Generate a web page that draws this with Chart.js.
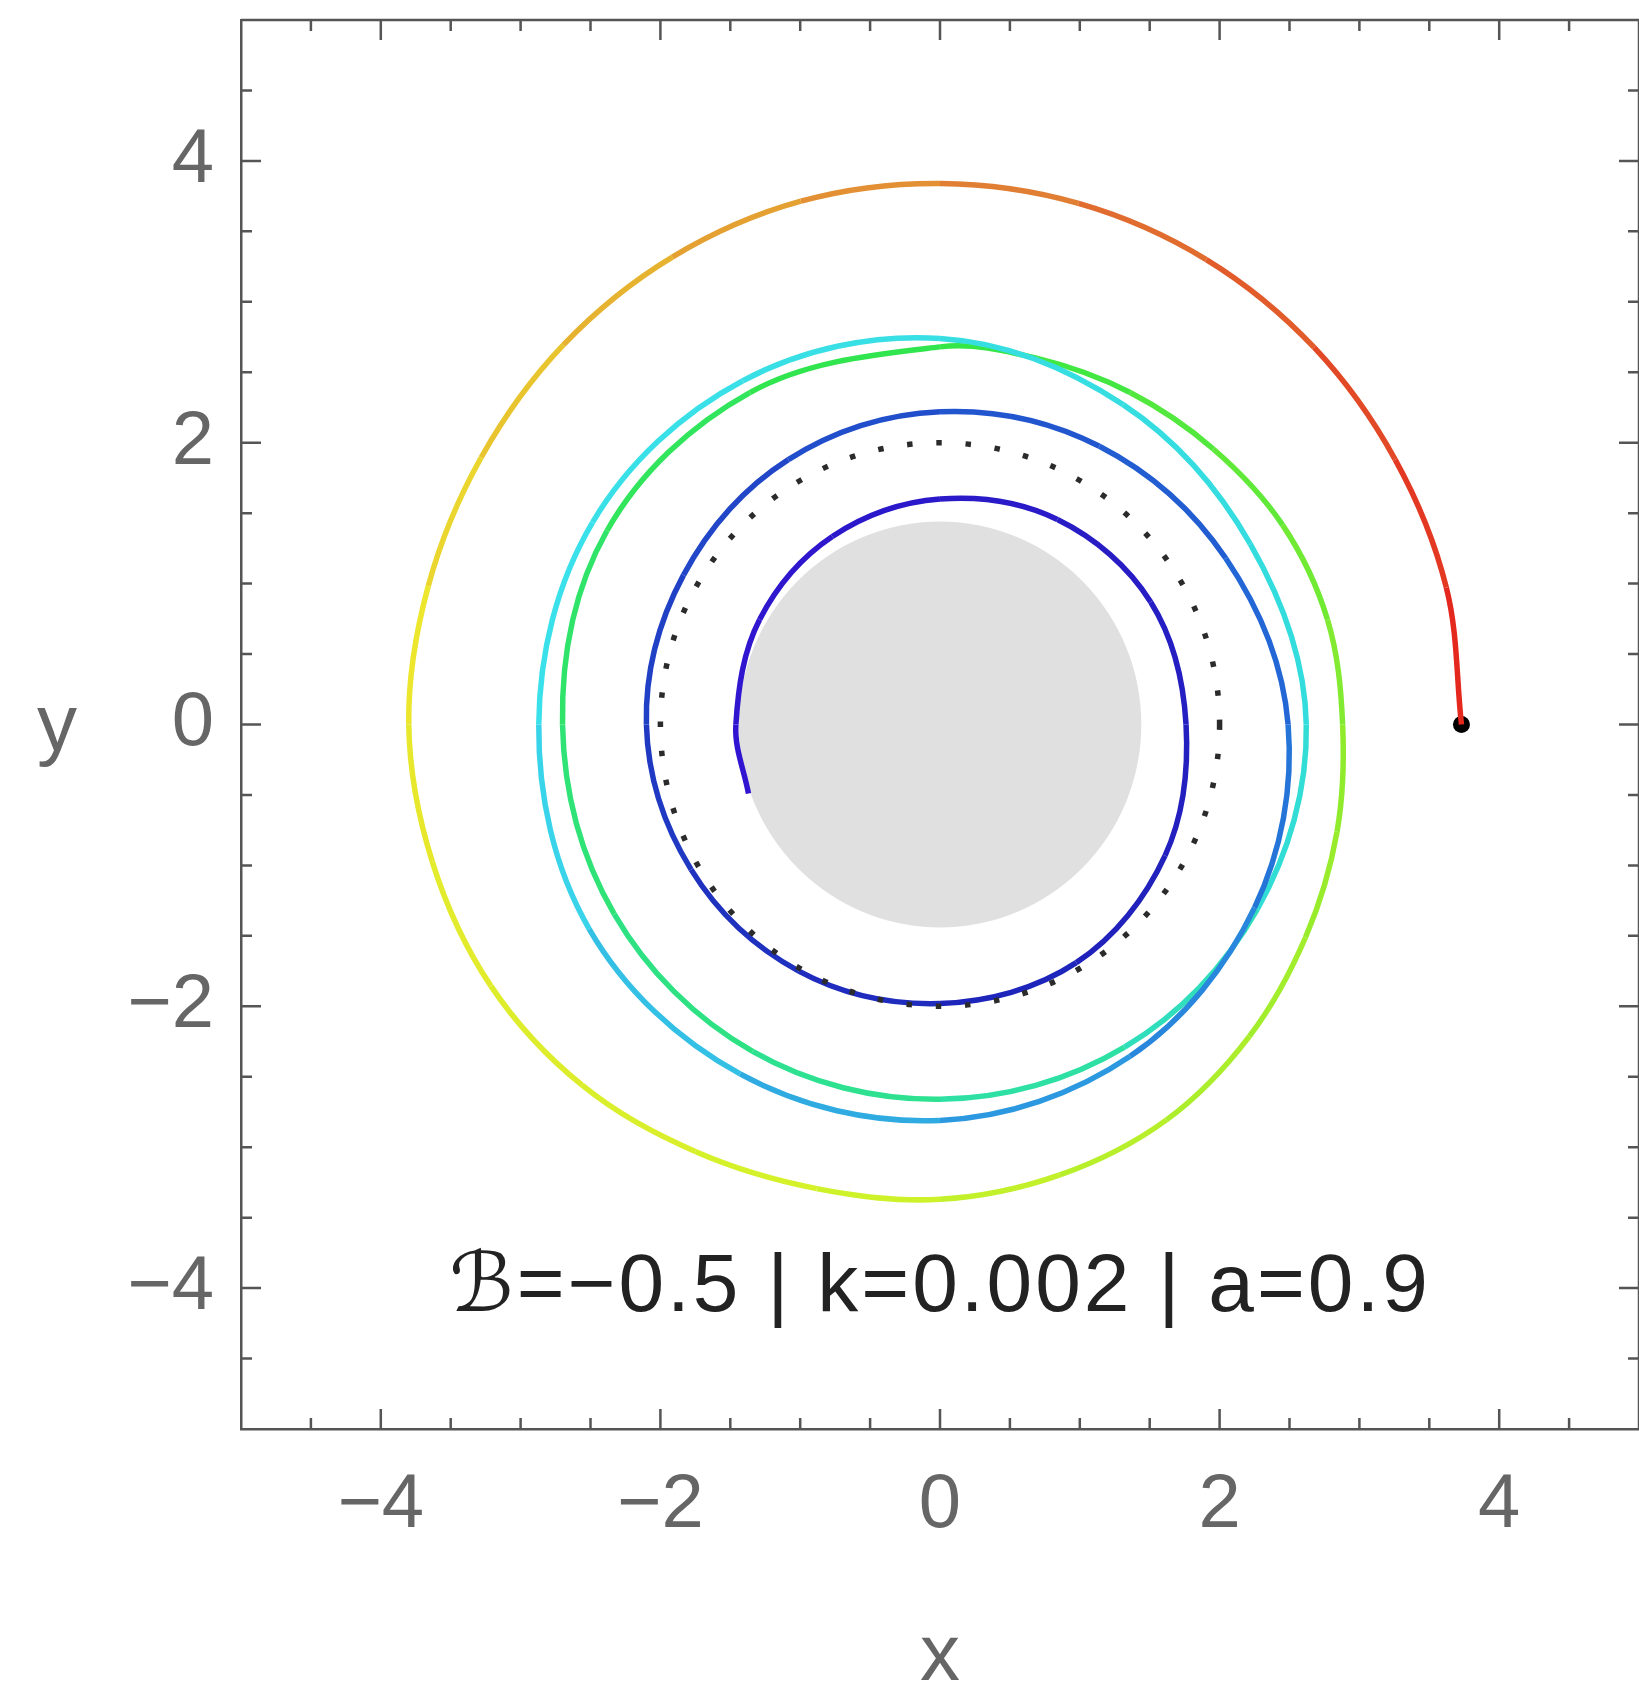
<!DOCTYPE html>
<html>
<head>
  <meta charset="UTF-8" />
  <title>Orbit</title>
  <script src="https://cdn.jsdelivr.net/npm/chart.js"></script>
  <style>
    body { margin: 0; background: #fff; }
    canvas { display: block; }
  </style>
</head>
<body>
  <canvas id="orbitChart" width="1639" height="1685"></canvas>

  <script>
    // orbit, starting at the black dot:
    // first turn and a quarter every 15 degrees, later every 30 degrees
    const orbitX = [3.73, 3.622, 3.256, 2.676, 1.905, 0.991, 0.00, -0.995, -1.915, -2.694, -3.282, -3.661,
                    -3.80, -3.632, -3.213, -2.56, -1.75, -0.882, 0.00, 0.857, 1.62, 2.213, 2.615, 2.84,
                    2.88, 2.772, 2.451, 1.955, 1.36, 0.696, 0.00,
                    -1.36, -2.382, -2.70, -2.33, -1.34, 0.00, 1.32, 2.27,
                    2.62, 2.22, 1.31, 0.00, -1.41, -2.485, -2.87, -2.51, -1.43, 0.00, 1.36, 2.25,
                    2.49, 2.044, 1.14, 0.00, -1.085, -1.835, -2.10, -1.78, -1.01, 0.00, 0.975, 1.61,
                    1.76, 1.507, 0.84, 0.00, -0.77, -1.29, -1.46, -1.37];
    const orbitY = [0.00, 0.971, 1.88, 2.676, 3.30, 3.699, 3.84, 3.714, 3.317, 2.694, 1.895, 0.981,
                    0.00, -0.973, -1.855, -2.56, -3.031, -3.294, -3.37, -3.197, -2.806, -2.213, -1.51, -0.761,
                    0.00, 0.743, 1.415, 1.955, 2.356, 2.598, 2.68,
                    2.356, 1.375, 0.00, -1.345, -2.32, -2.66, -2.29, -1.31,
                    0.00, 1.28, 2.27, 2.74, 2.44, 1.435, 0.00, -1.45, -2.48, -2.81, -2.355, -1.30,
                    0.00, 1.18, 1.975, 2.22, 1.88, 1.06, 0.00, -1.03, -1.75, -1.98, -1.69, -0.93,
                    0.00, 0.87, 1.455, 1.60, 1.334, 0.745, 0.00, -0.49];
    const startX = [3.73];
    const startY = [0.00];
    const horizonRadius = 1.44;
    const dottedRadius = 2.0;
    const xTickLabels = [-4, -2, 0, 2, 4];
    const yTickLabels = [-4, -2, 0, 2, 4];
    const axisMin = -5;
    const axisMax = 5;
    const paramText = 'ℬ=−0.5 | k=0.002 | a=0.9';
    const paramPos = [0, -4];

    // rainbow colour along the orbit, red at start to indigo at the end
    const colorStops = [
      [0.00, [228, 32, 28]],
      [0.10, [224, 128, 52]],
      [0.205, [236, 230, 45]],
      [0.30, [210, 242, 42]],
      [0.385, [140, 235, 45]],
      [0.44, [50, 230, 70]],
      [0.55, [45, 225, 150]],
      [0.60, [50, 220, 220]],
      [0.71, [60, 225, 235]],
      [0.77, [45, 165, 225]],
      [0.83, [35, 105, 215]],
      [0.94, [30, 35, 185]],
      [1.00, [50, 20, 210]]
    ];

    function colorAt(t) {
      for (let i = 1; i < colorStops.length; i++) {
        const [t1, c1] = colorStops[i];
        const [t0, c0] = colorStops[i - 1];
        if (t <= t1) {
          const f = (t - t0) / (t1 - t0);
          const c = c0.map((v, k) => Math.round(v + (c1[k] - v) * f));
          return `rgb(${c[0]},${c[1]},${c[2]})`;
        }
      }
      const c = colorStops[colorStops.length - 1][1];
      return `rgb(${c[0]},${c[1]},${c[2]})`;
    }

    // time along the orbit ~ r * ds, used only to spread the colours
    const orbitTime = [0];
    for (let i = 1; i < orbitX.length; i++) {
      const ds = Math.hypot(orbitX[i] - orbitX[i - 1], orbitY[i] - orbitY[i - 1]);
      const r = (Math.hypot(orbitX[i], orbitY[i]) + Math.hypot(orbitX[i - 1], orbitY[i - 1])) / 2;
      orbitTime.push(orbitTime[i - 1] + ds * r);
    }
    const totalTime = orbitTime[orbitTime.length - 1];

    const orbitPoints = orbitX.map((x, i) => ({ x: x, y: orbitY[i] }));
    const startPoints = startX.map((x, i) => ({ x: x, y: startY[i] }));

    const fmt = v => (v < 0 ? '\u2212' + Math.abs(v) : String(v));

    const diskPlugin = {
      id: 'disk',
      beforeDatasetsDraw(chart) {
        const { ctx, scales: { x, y } } = chart;
        const cx = x.getPixelForValue(0), cy = y.getPixelForValue(0);
        const rx = x.getPixelForValue(horizonRadius) - cx;
        const ry = cy - y.getPixelForValue(horizonRadius);
        ctx.save();
        ctx.fillStyle = '#e0e0e0';
        ctx.beginPath();
        ctx.ellipse(cx, cy, rx, ry, 0, 0, Math.PI * 2);
        ctx.fill();
        ctx.restore();
      },
      afterDatasetsDraw(chart) {
        const { ctx, scales: { x, y } } = chart;
        const cx = x.getPixelForValue(0), cy = y.getPixelForValue(0);
        const rx = x.getPixelForValue(dottedRadius) - cx;
        const ry = cy - y.getPixelForValue(dottedRadius);
        ctx.save();
        ctx.strokeStyle = '#2b2b2b';
        ctx.lineWidth = 5.5;
        ctx.setLineDash([5.5, 23.8]);
        ctx.beginPath();
        ctx.ellipse(cx, cy, rx, ry, 0, 0, Math.PI * 2);
        ctx.stroke();
        ctx.restore();
      }
    };

    const framePlugin = {
      id: 'frame',
      afterDraw(chart) {
        const { ctx, chartArea: a, scales: { x, y } } = chart;
        ctx.save();
        ctx.strokeStyle = '#555';
        ctx.lineWidth = 2.5;
        ctx.beginPath();
        ctx.moveTo(a.left, a.top);
        ctx.lineTo(a.right, a.top);
        ctx.moveTo(a.right, a.top);
        ctx.lineTo(a.right, a.bottom);
        ctx.stroke();

        // inward ticks on all four sides
        ctx.beginPath();
        for (let v = axisMin + 0.5; v < axisMax; v += 0.5) {
          const len = (Math.abs(v) % 2 === 0) ? 20 : 11;
          const px = x.getPixelForValue(v);
          const py = y.getPixelForValue(v);
          ctx.moveTo(px, a.bottom); ctx.lineTo(px, a.bottom - len);
          ctx.moveTo(px, a.top); ctx.lineTo(px, a.top + len);
          ctx.moveTo(a.left, py); ctx.lineTo(a.left + len, py);
          ctx.moveTo(a.right, py); ctx.lineTo(a.right - len, py);
        }
        ctx.stroke();

        // axis names
        ctx.fillStyle = '#666';
        ctx.font = '80px "Liberation Sans", Arial, sans-serif';
        ctx.textAlign = 'center';
        ctx.textBaseline = 'alphabetic';
        ctx.fillText('y', 57, 750);
        ctx.fillText('x', x.getPixelForValue(0), 1680);

        // parameter label
        ctx.fillStyle = '#222';
        ctx.font = '82px "Liberation Sans", "DejaVu Sans", sans-serif';
        ctx.letterSpacing = '3px';
        ctx.textBaseline = 'middle';
        ctx.fillText(paramText, x.getPixelForValue(paramPos[0]), y.getPixelForValue(paramPos[1]));
        ctx.restore();
      }
    };

    const tickFont = { family: '"Liberation Sans", Arial, sans-serif', size: 76 };

    new Chart(document.getElementById('orbitChart'), {
      type: 'scatter',
      data: {
        datasets: [
          {
            label: 'orbit',
            data: orbitPoints,
            showLine: true,
            borderWidth: 5.5,
            pointRadius: 0,
            tension: 0.35,
            borderColor: '#e02020',
            segment: {
              borderColor: c => colorAt((orbitTime[c.p0DataIndex] + orbitTime[c.p1DataIndex]) / 2 / totalTime)
            }
          },
          {
            label: 'start',
            data: startPoints,
            pointRadius: 8.5,
            pointBackgroundColor: '#000',
            pointBorderWidth: 0
          }
        ]
      },
      options: {
        responsive: false,
        animation: false,
        devicePixelRatio: 1,
        layout: { autoPadding: false, padding: { top: 20, right: 0, left: 0, bottom: 0 } },
        plugins: {
          legend: { display: false },
          tooltip: { enabled: false }
        },
        scales: {
          x: {
            type: 'linear',
            min: axisMin,
            max: axisMax,
            afterFit: s => { s.height = 256; s.paddingLeft = 0; s.paddingRight = 0; },
            afterBuildTicks: s => { s.ticks = xTickLabels.map(v => ({ value: v })); },
            grid: { display: false, drawTicks: false },
            border: { display: true, color: '#555', width: 2.5 },
            ticks: { color: '#666', font: tickFont, padding: 31, maxRotation: 0, callback: fmt }
          },
          y: {
            type: 'linear',
            min: axisMin,
            max: axisMax,
            afterFit: s => { s.width = 241; s.paddingTop = 0; s.paddingBottom = 0; },
            afterBuildTicks: s => { s.ticks = yTickLabels.map(v => ({ value: v })); },
            grid: { display: false, drawTicks: false },
            border: { display: true, color: '#555', width: 2.5 },
            ticks: { color: '#666', font: tickFont, padding: 27, callback: fmt }
          }
        }
      },
      plugins: [diskPlugin, framePlugin]
    });
  </script>
</body>
</html>
